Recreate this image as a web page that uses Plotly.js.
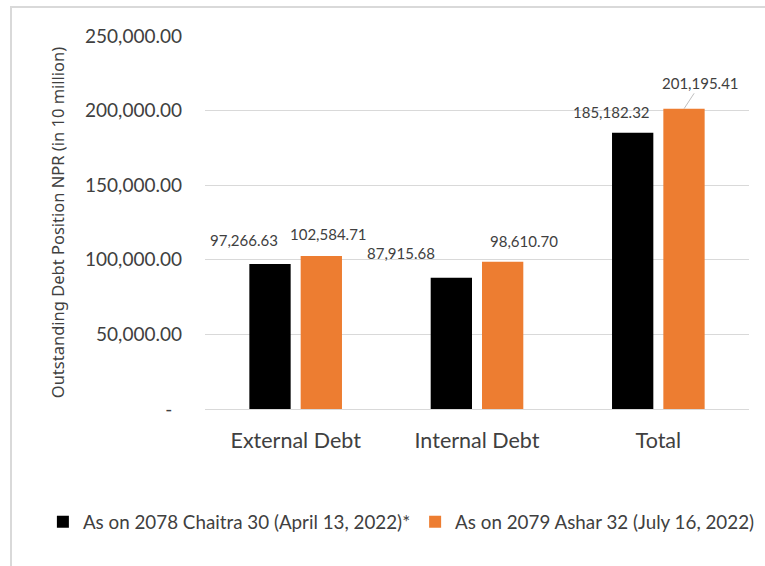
<!DOCTYPE html>
<html>
<head>
<meta charset="utf-8">
<script src="https://cdn.plot.ly/plotly-3.0.1.min.js"></script>
<style>
  html, body { margin: 0; padding: 0; background: #ffffff; }
  #wrap { position: relative; width: 765px; height: 566px; overflow: hidden; }
  #chart { position: absolute; left: 0; top: 0; width: 765px; height: 566px; }
  #frame { position: absolute; left: 10px; top: 6px; width: 900px; height: 700px;
           border-left: 2px solid #d9d9d9; border-top: 2px solid #d9d9d9; pointer-events: none; }
</style>
</head>
<body>
<div id="wrap">
  <div id="chart"></div>
  <div id="frame"></div>
</div>
<script>
// ---- data ----
var categories = ["External Debt", "Internal Debt", "Total"];
var seriesNames = ["As on 2078 Chaitra 30 (April 13, 2022)*", "As on 2079 Ashar 32 (July 16, 2022)"];
var chaitraValues = [97266.63, 87915.68, 185182.32];
var asharValues = [102584.71, 98610.70, 201195.41];
var yTickValues = [0, 50000, 100000, 150000, 200000, 250000];
var yTickLabels = ["-\u00a0\u00a0", "50,000.00", "100,000.00", "150,000.00", "200,000.00", "250,000.00"];
var yAxisTitle = "Outstanding Debt Position NPR (in 10 million)";

// ---- styling ----
var colors = ["#000000", "#ed7d31"];
var textColor = "#404040";
var barHalfOffset = 25.65; // px from category centre to each bar centre
// label offsets (px) relative to bar top centre: [dx, dy]
var labelOffsets = [
  [[-26, 24], [7, 22]],
  [[-50, 24.5], [21, 21]],
  [[-21, 21], [17, 26]]
];

function fmt(v) {
  return v.toLocaleString("en-US", {minimumFractionDigits: 2, maximumFractionDigits: 2});
}

var allSeries = [chaitraValues, asharValues];
var traces = allSeries.map(function (vals, s) {
  return {
    type: "bar",
    name: seriesNames[s],
    x: categories,
    y: vals,
    marker: {color: colors[s]},
    hoverinfo: "skip"
  };
});

var annotations = [];
allSeries.forEach(function (vals, s) {
  vals.forEach(function (v, i) {
    var off = labelOffsets[i][s];
    var sideShift = (s === 0 ? -barHalfOffset : barHalfOffset);
    var isLast = (i === categories.length - 1 && s === 1);
    var a = {
      x: categories[i],
      y: v,
      xref: "x",
      yref: "y",
      text: fmt(v),
      font: {family: "Lato, sans-serif", size: 15, color: textColor},
      showarrow: false
    };
    if (isLast) {
      a.showarrow = true;
      a.arrowhead = 0;
      a.arrowwidth = 1;
      a.arrowcolor = "#bfbfbf";
      a.standoff = 0;
      a.ax = off[0];
      a.ay = -off[1];
      a.xshift = sideShift;
    } else {
      a.xshift = sideShift + off[0];
      a.yshift = off[1];
      a.yanchor = "middle";
      a.xanchor = "center";
    }
    annotations.push(a);
  });
});

var layout = {
  width: 765,
  height: 566,
  margin: {l: 205, r: 16, t: 36, b: 157},
  paper_bgcolor: "rgba(0,0,0,0)",
  plot_bgcolor: "#ffffff",
  barmode: "group",
  bargap: 0.434,
  bargroupgap: 0.195,
  font: {family: "Lato, sans-serif", color: textColor},
  xaxis: {
    showline: true,
    linecolor: "#d9d9d9",
    linewidth: 1,
    ticks: "",
    showgrid: false,
    tickfont: {family: "Lato, sans-serif", size: 21.5, color: textColor},
    ticklabelstandoff: 12,
    fixedrange: true
  },
  yaxis: {
    range: [0, 250000],
    tickvals: yTickValues,
    ticktext: yTickLabels,
    tickfont: {family: "Lato, sans-serif", size: 19, color: textColor},
    ticklabelstandoff: 22,
    showgrid: true,
    gridcolor: "#d9d9d9",
    gridwidth: 1,
    zeroline: false,
    showline: false,
    ticks: "",
    title: {
      text: yAxisTitle,
      font: {family: "Noto Sans, sans-serif", size: 16.5, color: textColor},
      standoff: 16
    },
    fixedrange: true
  },
  showlegend: true,
  legend: {
    orientation: "h",
    x: -0.298,
    xanchor: "left",
    y: -0.303,
    yanchor: "middle",
    itemgap: 4,
    font: {family: "Lato, sans-serif", size: 18.8, color: textColor},
    bgcolor: "rgba(0,0,0,0)"
  },
  annotations: annotations
};

Plotly.newPlot("chart", traces, layout, {displayModeBar: false, staticPlot: true});
</script>
</body>
</html>
